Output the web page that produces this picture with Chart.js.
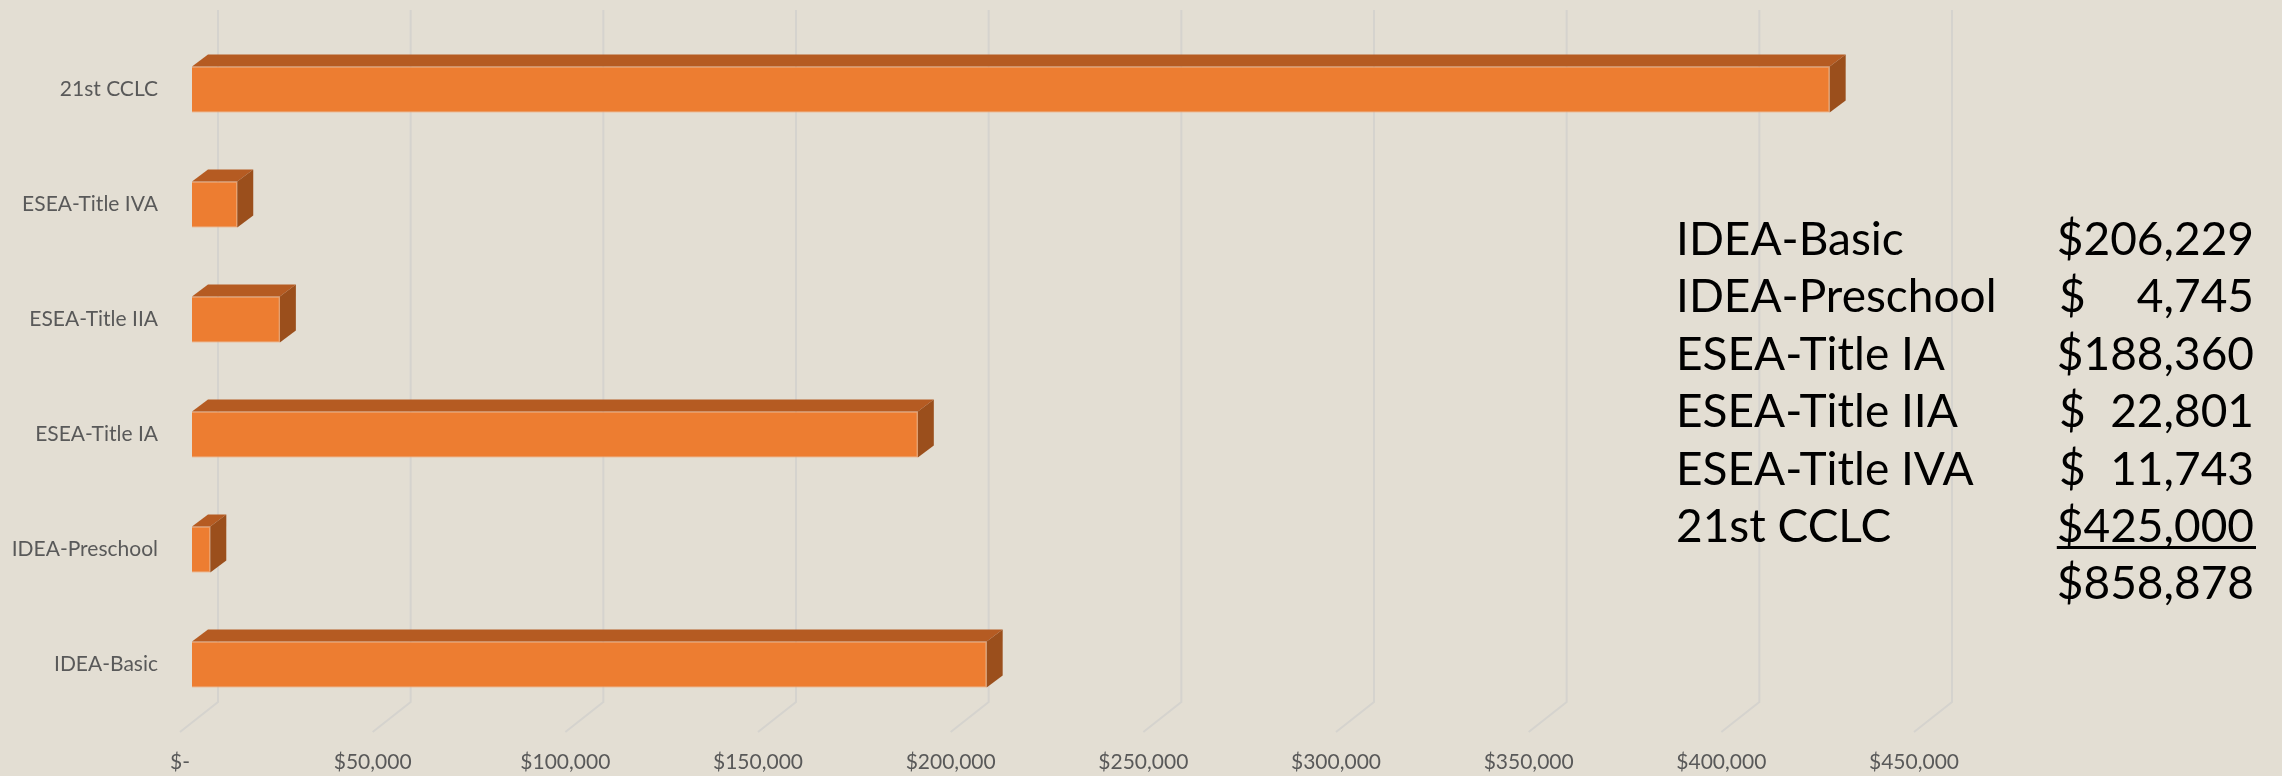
<!DOCTYPE html>
<html>
<head>
<meta charset="utf-8">
<script src="https://cdn.jsdelivr.net/npm/chart.js@4"></script>
<style>
  html, body { margin: 0; padding: 0; background: #e3ded3; }
  #wrap { width: 2282px; height: 776px; }
</style>
</head>
<body>
<div id="wrap"><canvas id="myChart1" width="2282" height="776"></canvas></div>
<script>
var categories = ['IDEA-Basic', 'IDEA-Preschool', 'ESEA-Title IA', 'ESEA-Title IIA', 'ESEA-Title IVA', '21st CCLC'];
var amounts = [206229, 4745, 188360, 22801, 11743, 425000];
var tickValues = [0, 50000, 100000, 150000, 200000, 250000, 300000, 350000, 400000, 450000];
var tickLabels = ['$-', '$50,000', '$100,000', '$150,000', '$200,000', '$250,000', '$300,000', '$350,000', '$400,000', '$450,000'];

var frontColor = '#ed7d31';
var topColor = '#b55b22';
var sideColor = '#9b4f1c';
var gridColor = '#d5d3ce';
var depthX = 16, depthY = 12;

function money(v) {
    return v.toString().replace(/\B(?=(\d{3})+(?!\d))/g, ',');
}

// back wall grid lines with a slanted floor part
var wallGrid = {
    id: 'wallGrid',
    beforeDatasetsDraw: function (chart) {
        var ctx = chart.ctx;
        var xs = chart.scales.x;
        ctx.save();
        ctx.strokeStyle = gridColor;
        ctx.lineWidth = 2;
        for (var i = 0; i < tickValues.length; i++) {
            var px = xs.getPixelForValue(tickValues[i]);
            ctx.beginPath();
            ctx.moveTo(px + 26, 10);
            ctx.lineTo(px + 26, 702);
            ctx.lineTo(px - 12, 732);
            ctx.stroke();
        }
        ctx.restore();
    }
};

// top and side faces of each bar
var bars3d = {
    id: 'bars3d',
    afterDatasetsDraw: function (chart) {
        var ctx = chart.ctx;
        var meta = chart.getDatasetMeta(0);
        ctx.save();
        meta.data.forEach(function (bar) {
            var p = bar.getProps(['x', 'y', 'base', 'height'], true);
            var x0 = Math.min(p.base, p.x), x1 = Math.max(p.base, p.x);
            var yt = p.y - p.height / 2, yb = p.y + p.height / 2;
            ctx.fillStyle = topColor;
            ctx.beginPath();
            ctx.moveTo(x0, yt);
            ctx.lineTo(x0 + depthX, yt - depthY);
            ctx.lineTo(x1 + depthX, yt - depthY);
            ctx.lineTo(x1, yt);
            ctx.closePath();
            ctx.fill();
            ctx.fillStyle = sideColor;
            ctx.beginPath();
            ctx.moveTo(x1, yt);
            ctx.lineTo(x1 + depthX, yt - depthY);
            ctx.lineTo(x1 + depthX, yb - depthY);
            ctx.lineTo(x1, yb);
            ctx.closePath();
            ctx.fill();
        });
        ctx.restore();
    }
};

// summary table on the right
var summary = {
    id: 'summary',
    afterDraw: function (chart) {
        var ctx = chart.ctx;
        var total = 0;
        ctx.save();
        ctx.fillStyle = '#000';
        ctx.font = '46px Lato';
        ctx.textBaseline = 'alphabetic';
        for (var i = 0; i < categories.length; i++) {
            var y = 255 + i * 57.4;
            total += amounts[i];
            ctx.textAlign = 'left';
            ctx.fillText(categories[i], 1676, y);
            if (amounts[i] >= 100000) {
                ctx.textAlign = 'right';
                ctx.fillText('$' + money(amounts[i]), 2254, y);
            } else {
                ctx.textAlign = 'left';
                ctx.fillText('$', 2059, y);
                ctx.textAlign = 'right';
                ctx.fillText(money(amounts[i]), 2254, y);
            }
        }
        var w = ctx.measureText('$' + money(amounts[amounts.length - 1])).width;
        ctx.fillRect(2254 - w, 546, w + 2, 3);
        ctx.textAlign = 'right';
        ctx.fillText('$' + money(total), 2254, 255 + categories.length * 57.4);
        ctx.restore();
    }
};

var ctx = document.getElementById('myChart1').getContext('2d');
var thisChart = new Chart(ctx, {
    type: 'bar',
    data: {
        labels: categories,
        datasets: [{
            data: amounts,
            backgroundColor: frontColor,
            borderColor: '#f19a5f',
            borderWidth: 1,
            categoryPercentage: 1,
            barPercentage: 0.4
        }]
    },
    options: {
        indexAxis: 'y',
        responsive: false,
        devicePixelRatio: 1,
        animation: false,
        layout: { padding: { top: 32, right: 356, left: 0, bottom: 0 } },
        plugins: {
            legend: { display: false },
            tooltip: { enabled: false }
        },
        scales: {
            x: {
                min: 0,
                max: 450000,
                border: { display: false },
                grid: { display: false, drawTicks: false },
                ticks: {
                    stepSize: 50000,
                    padding: 28,
                    labelOffset: -12,
                    color: '#595959',
                    font: { family: 'Lato', size: 21 },
                    maxRotation: 0,
                    autoSkip: false,
                    callback: function (value) {
                        var i = tickValues.indexOf(value);
                        return i >= 0 ? tickLabels[i] : '';
                    }
                },
                afterFit: function (scale) { scale.height = 54; }
            },
            y: {
                reverse: true,
                border: { display: false },
                grid: { display: false, drawTicks: false },
                ticks: {
                    padding: 34,
                    color: '#595959',
                    font: { family: 'Lato', size: 21 }
                },
                afterFit: function (scale) {
                    scale.width = 192;
                    scale.paddingTop = 0;
                    scale.paddingBottom = 0;
                }
            }
        }
    },
    plugins: [wallGrid, bars3d, summary]
});
</script>
</body>
</html>
